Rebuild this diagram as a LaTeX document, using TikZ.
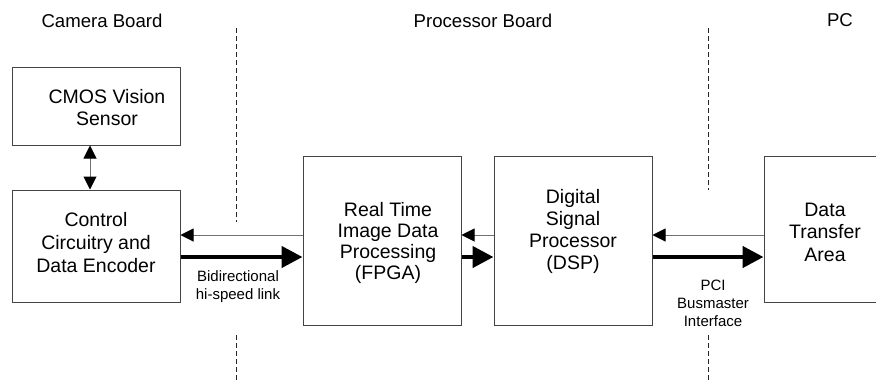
\documentclass[tikz,border=0pt]{standalone}
\usepackage{fontspec}
\setmainfont{Liberation Sans}
\usetikzlibrary{arrows.meta}
\definecolor{boxline}{HTML}{444444}
\definecolor{thinline}{HTML}{707070}
\definecolor{dashline}{HTML}{222222}
\begin{document}
\begin{tikzpicture}[x=1pt,y=-1pt,
  box/.style={draw=boxline,line width=1pt,inner sep=0pt,align=center},
  head/.style={font=\fontsize{18.6}{22}\selectfont},
  small/.style={align=center,font=\fontsize{15}{17.5}\selectfont},
  thin/.style={draw=thinline,line width=1pt,-{Triangle[length=13pt,width=13pt,color=black]}},
  thick/.style={draw=black,line width=4.5pt,-{Triangle[length=21pt,width=21pt]}},
  twoway/.style={draw=thinline,line width=1pt,{Triangle[length=13pt,width=13pt,color=black]}-{Triangle[length=13pt,width=13pt,color=black]}},
  divider/.style={draw=dashline,line width=1pt,dash pattern=on 5pt off 3pt}]
\useasboundingbox (0,0) rectangle (876,380);
% headings
\node[head] (hcam) at (102,20.5) {Camera Board};
\node[head] (hproc) at (483,20.5) {Processor Board};
\node[head] (hpc) at (840,20.5) {PC};
% boxes
\node[box,minimum width=168pt,minimum height=78pt,
  label={[align=center,font=\fontsize{19.5}{21.5}\selectfont,xshift=11pt,yshift=-1.5pt]center:CMOS Vision\\Sensor}]
  (cmos) at (96,106) {};
\node[box,minimum width=168pt,minimum height=112pt,
  label={[align=center,font=\fontsize{19.5}{23}\selectfont,yshift=3pt]center:Control\\Circuitry and\\Data Encoder}]
  (ctrl) at (96,246) {};
\node[box,minimum width=158pt,minimum height=169pt,
  label={[align=center,font=\fontsize{19.5}{21}\selectfont,xshift=6pt,yshift=-2pt]center:Real Time\\Image Data\\Processing\\(FPGA)}]
  (fpga) at (382,240.5) {};
\node[box,minimum width=158pt,minimum height=169pt,
  label={[align=center,font=\fontsize{19.5}{22.3}\selectfont,yshift=9pt]center:Digital\\Signal\\Processor\\(DSP)}]
  (dsp) at (573,240.5) {};
\node[box,minimum width=120pt,minimum height=146pt,
  label={[align=center,font=\fontsize{19.5}{22.5}\selectfont,xshift=1pt,yshift=-3pt]center:Data\\Transfer\\Area}]
  (dta) at (824,229) {};
% dividers
\coordinate (d1a) at (236,28); \coordinate (d1b) at (236,222);
\coordinate (d1c) at (236,335); \coordinate (d1d) at (236,380);
\coordinate (d2a) at (708,28); \coordinate (d2b) at (708,190);
\coordinate (d2c) at (708,335); \coordinate (d2d) at (708,380);
\draw[divider] (d1a) -- (d1b);
\draw[divider] (d1c) -- (d1d);
\draw[divider] (d2a) -- (d2b);
\draw[divider] (d2c) -- (d2d);
% connectors
\draw[twoway] (cmos.south -| 90,0) -- (ctrl.north -| 90,0);
\draw[thin] (fpga.west |- 0,235) -- (ctrl.east |- 0,235);
\draw[thick] (ctrl.east |- 0,257) -- (fpga.west |- 0,257);
\draw[thin] (dsp.west |- 0,235) -- (fpga.east |- 0,235);
\draw[thick] (fpga.east |- 0,257) -- (dsp.west |- 0,257);
\draw[thin] (dta.west |- 0,235) -- (dsp.east |- 0,235);
\draw[thick] (dsp.east |- 0,257) -- (dta.west |- 0,257);
% link labels
\node[small] (lbl1) at (238,286.5) {Bidirectional\\hi-speed link};
\node[small,font=\fontsize{15}{18}\selectfont] (lbl2) at (713,303) {PCI\\Busmaster\\Interface};
\end{tikzpicture}
\end{document}
